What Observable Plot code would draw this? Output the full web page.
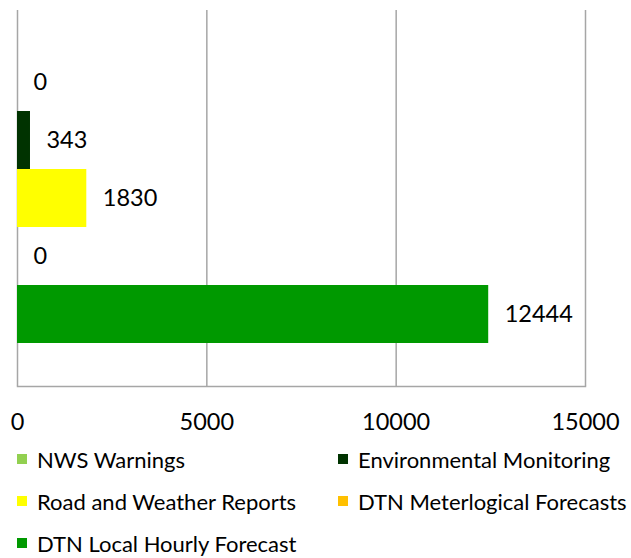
<!DOCTYPE html>
<html>
<head>
<meta charset="utf-8">
<script src="https://cdn.jsdelivr.net/npm/d3@7"></script>
<script src="https://cdn.jsdelivr.net/npm/@observablehq/plot@0.6"></script>
<style>
  body { margin: 0; background: #fff; font-family: Lato, "Open Sans", sans-serif; }
  #legend { display: grid; grid-template-columns: 321px 310px; font-size: 22px; color: #000; margin-top: -2px; }
  .item { display: flex; align-items: center; height: 42px; padding-left: 17px; }
  .sw { width: 10px; height: 10px; margin-right: 10px; flex: none; }
</style>
</head>
<body>
<div id="chart"></div>
<div id="legend"></div>
<script>
const series = ["NWS Warnings", "Environmental Monitoring", "Road and Weather Reports", "DTN Meterlogical Forecasts", "DTN Local Hourly Forecast"];
const values = [0, 343, 1830, 0, 12444];
const colors = ["#92D050", "#003300", "#FFFF00", "#FFC000", "#009900"];
const xTicks = [0, 5000, 10000, 15000];

const data = series.map((s, i) => ({series: s, value: values[i]}));

const plot = Plot.plot({
  width: 631,
  height: 440,
  marginLeft: 17,
  marginRight: 46,
  marginTop: 10,
  marginBottom: 54,
  style: {fontFamily: "Lato, 'Open Sans', sans-serif", fontSize: "23px", background: "#fff"},
  x: {domain: [0, 15000], axis: null},
  y: {domain: series, axis: null, paddingInner: 0, paddingOuter: 0.74},
  color: {domain: series, range: colors},
  marks: [
    Plot.gridX(xTicks, {stroke: "#a6a6a6", strokeOpacity: 1, strokeWidth: 1.5}),
    Plot.frame({anchor: "bottom", stroke: "#a6a6a6", strokeWidth: 1.5}),
    Plot.barX(data, {x: "value", y: "series", fill: "series"}),
    Plot.axisX(xTicks, {tickSize: 0, tickPadding: 0, label: null, fill: "#000", fontSize: 23.5, dy: 27, tickFormat: d => String(d)}),
    Plot.text(data, {x: "value", y: "series", text: d => String(d.value), textAnchor: "start", dx: 16, fontSize: 23.5, fill: "#000"})
  ]
});
document.getElementById("chart").appendChild(plot);

const legend = document.getElementById("legend");
series.forEach((s, i) => {
  const it = document.createElement("div");
  it.className = "item";
  it.innerHTML = `<span class="sw" style="background:${colors[i]}"></span><span>${s}</span>`;
  legend.appendChild(it);
});
</script>
</body>
</html>
